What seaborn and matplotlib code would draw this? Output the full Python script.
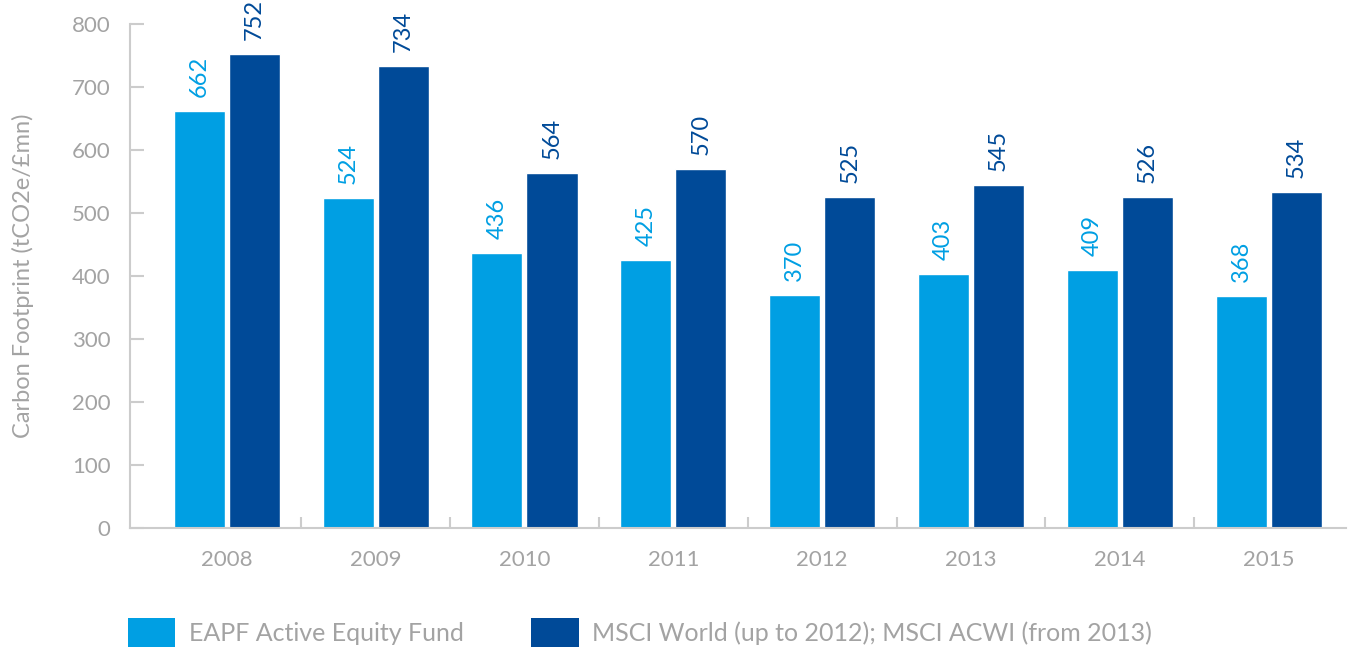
import matplotlib
matplotlib.use("Agg")
import matplotlib.pyplot as plt
from matplotlib.patches import Patch
from matplotlib.ticker import FixedLocator
import seaborn as sns
import pandas as pd

YEARS = ["2008", "2009", "2010", "2011", "2012", "2013", "2014", "2015"]
EAPF = [662, 524, 436, 425, 370, 403, 409, 368]
MSCI = [752, 734, 564, 570, 525, 545, 526, 534]
SERIES = ["EAPF Active Equity Fund", "MSCI World (up to 2012); MSCI ACWI (from 2013)"]
COLORS = ["#009fe3", "#004a98"]
GREY = "#a3a3a3"

sns.set_theme(style="white")
plt.rcParams['font.family'] = ['Lato', 'DejaVu Sans']

df = pd.DataFrame({
    "year": YEARS * 2,
    "value": EAPF + MSCI,
    "series": [SERIES[0]] * len(YEARS) + [SERIES[1]] * len(YEARS),
})

fig = plt.figure(figsize=(13.57, 6.49), dpi=100)
ax = fig.add_axes([0.0958, 0.1864, 0.8962, 0.7766])

sns.barplot(data=df, x="year", y="value", hue="series", palette=COLORS,
            width=0.74, gap=0.073, saturation=1, legend=False, ax=ax)

# value labels, rotated, same colour as bar
for cont, col in zip(ax.containers, COLORS):
    for bar, v in zip(cont, cont.datavalues):
        ax.annotate("%d" % v, (bar.get_x() + bar.get_width() / 2, bar.get_height()),
                    xytext=(0, 10), textcoords="offset points", rotation=90,
                    ha="center", va="bottom", fontsize=17, color=col)

ax.set_ylim(0, 800)
ax.set_xlim(-0.65, 7.52)
ax.set_yticks(range(0, 801, 100))
ax.set_xlabel("")
ax.set_ylabel("Carbon Footprint (tCO2e/£mn)", color=GREY, fontsize=17, labelpad=27)

for s in ["top", "right"]:
    ax.spines[s].set_visible(False)
for s in ["left", "bottom"]:
    ax.spines[s].set_color("#cccccc")
    ax.spines[s].set_linewidth(1.5)

ax.tick_params(axis="y", direction="in", length=10, width=1.5, color="#cccccc",
               labelsize=16, labelcolor=GREY, pad=14, left=True)
ax.tick_params(axis="x", which="major", length=0, labelsize=16, labelcolor=GREY, pad=16)
ax.xaxis.set_minor_locator(FixedLocator([i + 0.5 for i in range(len(YEARS) - 1)]))
ax.tick_params(axis="x", which="minor", direction="in", length=8, width=1.5,
               color="#cccccc", bottom=True)

handles = [Patch(facecolor=c, edgecolor="none") for c in COLORS]
fig.legend(handles, SERIES, loc="center left", bbox_to_anchor=(0.094, 0.025),
           ncol=2, frameon=False, fontsize=18, labelcolor=GREY,
           handlelength=1.9, handleheight=1.4, handletextpad=0.55, columnspacing=2.7,
           borderpad=0, borderaxespad=0)

fig.savefig("out.png", dpi=100)
